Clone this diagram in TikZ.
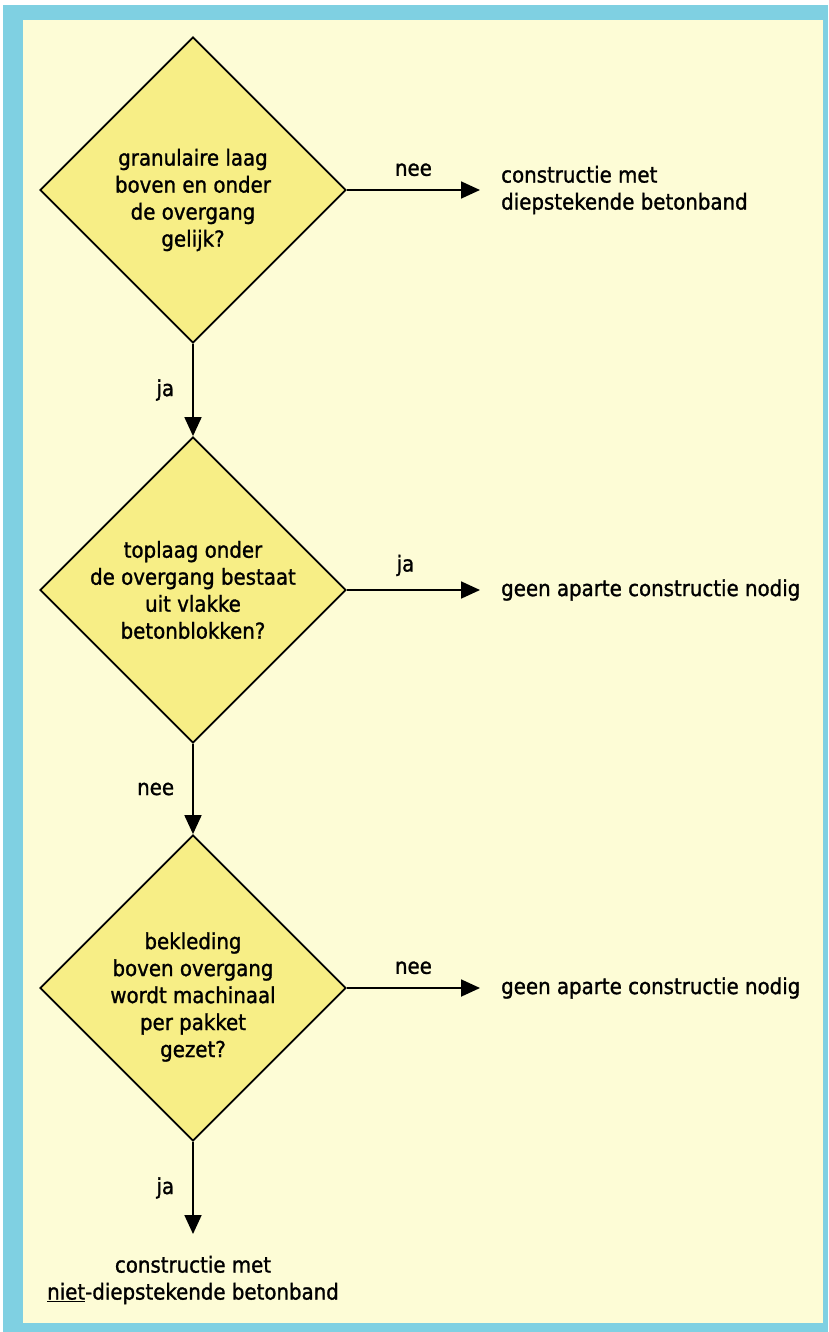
\documentclass[tikz,border=0pt]{standalone}
\usepackage{fontspec}
\setmainfont{DejaVu Sans Condensed}[FakeBold=1.2]
\usetikzlibrary{shapes.geometric,arrows.meta}
\definecolor{frameblue}{HTML}{7FD0E2}
\definecolor{paper}{HTML}{FDFCD6}
\definecolor{dfill}{HTML}{F7EE86}
\tikzset{
  x=1pt,y=-1pt,
  every node/.style={font=\fontsize{22}{27}\selectfont, text=black},
  decision/.style={shape=diamond, draw=black, line width=1.8pt, fill=dfill,
    minimum width=306pt, minimum height=306pt, aspect=1, inner sep=0pt, align=center},
  outcome/.style={anchor=west, align=left, inner sep=0pt},
  flow/.style={line width=1.8pt, -{Triangle[length=19pt,width=17pt]}},
  lbl/.style={inner sep=0pt}
}
\begin{document}
\begin{tikzpicture}
\useasboundingbox (0,0) rectangle (828,1332);
\fill[white] (0,0) rectangle (828,1332);
\fill[frameblue] (3,5) rectangle (828,1332);
\fill[paper] (23,20) rectangle (823,1323);

\node[decision] (d1) at (193,190) {};
\node[lbl, align=center] (t1) at (193,200) {granulaire laag\\boven en onder\\de overgang\\gelijk?};

\node[decision] (d2) at (193,590) {};
\node[lbl, align=center] (t2) at (193,590) {toplaag onder\\de overgang bestaat\\uit vlakke\\betonblokken?};

\node[decision] (d3) at (193,988) {};
\node[lbl, align=center] (t3) at (193,997) {bekleding\\boven overgang\\wordt machinaal\\per pakket\\gezet?};

\coordinate (e1) at (480,190);
\coordinate (e2) at (480,590);
\coordinate (e3) at (480,988);
\coordinate (e4) at (193,1234);

\node[outcome] (o1) at (501,190) {constructie met\\diepstekende betonband};
\node[outcome] (o2) at (501,590) {geen aparte constructie nodig};
\node[outcome] (o3) at (501,988) {geen aparte constructie nodig};
\node[lbl, align=center] (o4) at (193,1280) {constructie met\\\underline{niet}-diepstekende betonband};

\draw[flow] (d1.east) -- node[lbl, midway, above=13pt] (l1) {nee} (e1);
\draw[flow] (d2.east) -- node[lbl, midway, above=13pt, xshift=-8pt] (l2) {ja} (e2);
\draw[flow] (d3.east) -- node[lbl, midway, above=13pt] (l3) {nee} (e3);

\draw[flow] (d1.south) -- node[lbl, midway, left=18pt] (l4) {ja} (d2.north);
\draw[flow] (d2.south) -- node[lbl, midway, left=18pt] (l5) {nee} (d3.north);
\draw[flow] (d3.south) -- node[lbl, midway, left=18pt] (l6) {ja} (e4);
\end{tikzpicture}
\end{document}
